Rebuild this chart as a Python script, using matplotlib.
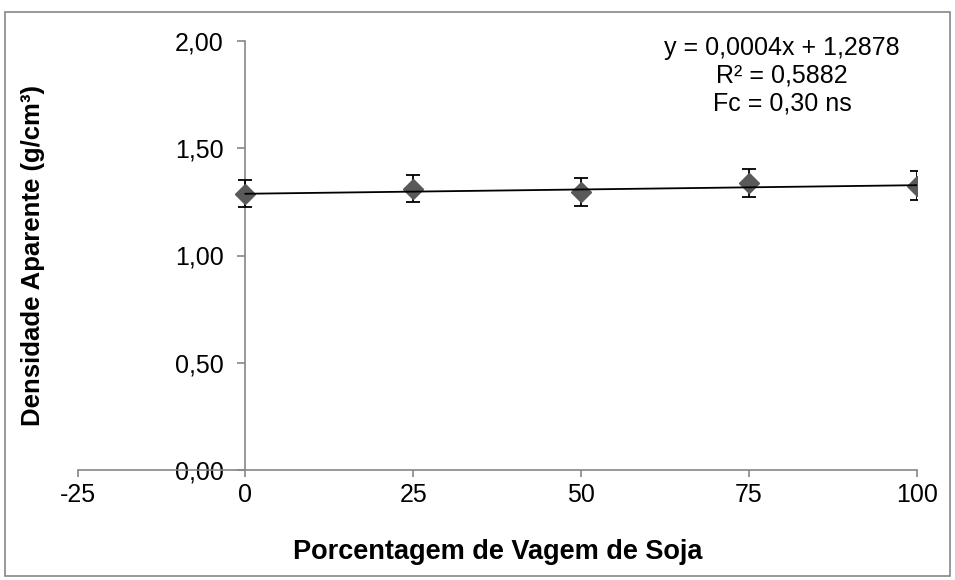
import matplotlib
matplotlib.use("Agg")
import matplotlib.pyplot as plt
from matplotlib.patches import Rectangle
import numpy as np

# Data
porcentagem = [0, 25, 50, 75, 100]
densidade = [1.288, 1.311, 1.294, 1.338, 1.326]
erro = [0.062, 0.062, 0.065, 0.067, 0.066]
slope = 0.0004
intercept = 1.2878
x_ticks = [-25, 0, 25, 50, 75, 100]
y_ticks = [0.0, 0.5, 1.0, 1.5, 2.0]
eq_lines = ["y = 0,0004x + 1,2878", "R² = 0,5882", "Fc = 0,30 ns"]

plt.rcParams['font.family'] = ['Liberation Sans', 'DejaVu Sans']

fig = plt.figure(figsize=(9.55, 5.8), dpi=100)
ax = fig.add_axes([77.5/955, 110/580, (917-77.5)/955, (470-41)/580])

gray = '#868686'
ax.set_xlim(-25, 100)
ax.set_ylim(0, 2.0)
ax.spines['top'].set_visible(False)
ax.spines['right'].set_visible(False)
ax.spines['left'].set_position(('data', 0))
for s in ['left', 'bottom']:
    ax.spines[s].set_color(gray)
    ax.spines[s].set_linewidth(1.2)

ax.set_xticks(x_ticks)
ax.set_xticklabels([str(v) for v in x_ticks])
ax.set_yticks(y_ticks)
ax.set_yticklabels([f"{v:.2f}".replace('.', ',') for v in y_ticks])
ax.tick_params(axis='y', direction='out', length=5.8, width=1.2, color=gray,
               labelsize=18, pad=10)
ax.tick_params(axis='x', direction='out', length=5, width=1.2, color=gray,
               labelsize=18, pad=4)

ax.errorbar(porcentagem, densidade, yerr=erro, fmt='D', color='#595959',
            markersize=10.5, ecolor='black', elinewidth=1.3, capsize=5,
            capthick=1.3, zorder=3)
xl = np.array([min(porcentagem), max(porcentagem)])
ax.plot(xl, slope * xl + intercept, color='black', lw=1.3, zorder=4)

for i, t in enumerate(eq_lines):
    fig.text(782/955, 1 - (48 + 27.5*i)/580, t, ha='center', va='center', fontsize=18)

ax.set_xlabel("Porcentagem de Vagem de Soja", fontsize=19.5, fontweight='bold')
ax.xaxis.set_label_coords(0.5, -0.16)
fig.text(33/955, 1 - 255.5/580, "Densidade Aparente (g/cm³)", rotation=90,
         ha='center', va='center', fontsize=18.5, fontweight='bold')

fig.patches.append(Rectangle((5/955, 4/580), 945/955, 564/580, transform=fig.transFigure,
                             fill=False, edgecolor=gray, lw=1.2))

fig.savefig("out.png", dpi=100)
